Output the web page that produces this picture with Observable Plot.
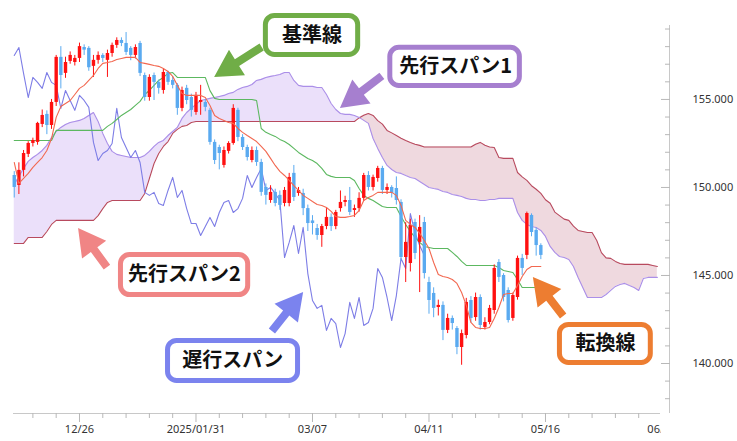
<!DOCTYPE html>
<html><head><meta charset="utf-8">
<script src="https://cdn.jsdelivr.net/npm/d3@7"></script>
<script src="https://cdn.jsdelivr.net/npm/@observablehq/plot@0.6"></script>
<style>
body{margin:0;background:#fff;}
#chart{width:737px;height:441px;overflow:hidden}
</style></head><body><div id="chart"></div>
<script>
// trading-day index: 12/26 = 0; first candle is index -14
const firstIndex = -14;
const open = [
150.68,150.11,150.97,151.88,152.5,152.56,153.58,154.15,153.52,154.83,
157.39,156.48,157.16,157.1,157.33,157.95,157.9,156.88,157.22,157.5,
157.22,157.61,158.07,158.35,158.18,157.9,157.5,158.18,156.36,155.11,
156.36,155.97,155.51,156.53,156.08,155.8,154.49,155.63,155.11,154.26,
154.83,154.83,154.38,152.56,152.27,151.25,152.05,152.5,154.38,152.84,
152.27,151.53,152.1,151.42,150.0,149.26,149.72,149.55,149.09,149.09,
150.8,149.66,149.66,148.8,148.1,147.67,147.27,147.78,148.3,147.78,
148.8,149.15,149.26,148.69,148.8,149.38,150.68,150.0,150.51,151.08,
149.83,150.0,149.94,149.15,146.02,145.68,148.01,146.88,148.01,144.6,
143.98,143.18,143.3,141.88,142.56,141.99,140.91,141.59,143.58,142.61,
143.75,142.05,142.33,143.01,145.74,145.0,144.15,142.56,143.75,145.97,
146.14,148.41,147.56,146.7];
const close = [
150.0,150.97,151.93,152.5,152.67,153.64,154.09,153.52,154.83,157.39,
156.36,157.1,157.5,157.33,158.0,157.8,156.8,157.22,157.5,157.33,
157.61,158.07,158.35,158.18,157.67,157.5,157.95,156.48,155.11,156.25,
155.97,155.63,156.53,155.97,155.8,154.49,155.51,154.94,154.38,155.23,
154.94,154.55,152.56,151.53,151.93,152.1,152.5,154.49,152.84,152.27,
151.7,152.1,151.42,149.72,149.55,149.72,149.09,148.98,149.83,150.57,
149.43,149.83,148.8,147.95,147.95,147.27,147.78,148.3,147.78,148.58,
149.15,149.26,148.58,148.8,149.38,150.68,150.0,150.57,151.08,149.83,
150.0,149.66,149.26,146.02,146.88,147.84,146.25,147.73,145.11,143.58,
143.13,143.3,141.88,142.56,142.27,140.91,141.7,143.47,142.56,143.75,
142.16,142.33,143.13,145.4,144.89,143.75,142.44,143.86,145.97,145.4,
148.52,147.44,146.7,146.14];
const high = [
150.9,151.4,152.1,152.6,152.8,153.7,154.4,154.35,155.0,157.5,
158.0,157.4,157.7,157.5,158.2,158.1,158.0,157.5,157.7,157.6,
157.8,158.2,158.5,158.5,158.8,158.0,158.1,158.3,156.5,156.4,
156.5,156.1,156.7,156.6,156.3,155.9,155.7,155.8,155.3,155.4,
155.8,155.0,154.5,152.7,152.4,152.3,152.6,154.7,154.5,153.0,
152.4,152.3,152.3,151.6,150.2,150.1,149.9,149.8,150.0,150.8,
151.25,150.0,149.9,149.0,148.4,147.9,147.9,148.8,148.5,148.7,
149.8,149.5,150.0,149.0,149.7,150.8,150.9,150.7,151.2,151.2,
150.2,150.1,150.6,149.3,148.0,148.2,148.2,148.4,148.3,144.9,
144.3,143.6,143.5,142.8,142.7,142.1,141.9,143.7,143.8,144.0,
143.9,142.6,143.3,145.6,145.9,145.1,144.3,144.0,146.1,146.2,
148.6,148.5,147.7,146.8];
const low = [
149.4,149.6,150.6,151.7,152.3,152.4,153.4,153.0,153.3,154.6,
155.6,156.2,157.0,156.9,157.1,157.5,156.6,156.25,157.0,157.1,
156.25,157.4,157.9,158.0,157.5,157.2,157.3,156.3,154.9,154.9,
154.94,155.3,155.3,155.8,155.6,154.1,154.3,154.7,154.0,154.1,
154.1,154.3,152.4,151.3,151.0,151.1,151.9,152.4,152.6,152.1,
151.5,151.4,151.2,149.5,149.0,149.1,148.9,148.7,148.9,148.9,
149.2,149.5,148.4,147.5,147.3,147.0,146.6,147.6,147.5,147.6,
148.6,148.9,148.4,148.3,148.6,149.2,149.8,149.8,150.3,149.6,
149.6,149.4,149.0,145.8,144.6,145.2,145.9,144.03,144.8,142.8,
142.6,142.7,141.3,141.7,141.9,140.5,139.9,141.4,142.3,142.4,
141.9,141.9,142.2,142.8,144.6,143.5,142.3,142.4,143.6,145.0,
145.9,147.2,146.1,145.9];
// 転換線
const tenkan = [
151.42,150.23,150.51,150.8,151.14,151.42,151.7,152.1,152.78,153.98,
154.6,154.77,154.94,155.28,155.63,155.8,156.08,156.36,156.76,157.05,
157.1,157.16,157.27,157.33,157.39,157.39,157.39,157.1,157.05,156.99,
156.93,156.88,156.76,156.59,156.31,155.8,155.34,155.23,155.23,155.23,
155.23,155.11,154.66,154.09,153.92,153.81,153.69,153.64,153.35,153.13,
152.95,152.78,152.61,152.33,152.05,151.65,151.25,150.91,150.68,150.4,
150.11,149.83,149.55,149.38,149.2,149.03,148.98,148.86,148.64,148.35,
148.3,148.3,148.35,148.41,148.69,149.26,149.43,149.55,149.72,149.72,
149.72,149.72,149.55,148.98,148.13,147.9,147.73,147.39,146.99,146.53,
145.74,145.06,144.94,144.89,144.77,144.55,144.03,143.3,142.33,142.05,
141.99,141.99,142.05,142.56,143.18,143.92,143.98,143.98,144.43,144.94,
145.34,145.51,145.51,145.51];
// 基準線
const kijun = [
152.67,152.67,152.67,152.67,152.67,152.67,152.67,152.67,152.67,153.24,
153.24,153.24,153.24,153.24,153.24,153.24,153.24,153.24,153.24,153.24,
153.47,153.64,153.86,154.09,154.26,154.43,154.66,154.89,155.28,155.51,
155.8,156.08,156.25,156.48,156.53,156.25,156.25,156.25,156.25,156.25,
156.25,156.25,155.5,155.06,155.0,155.0,155.0,155.0,155.0,155.0,
155.0,155.0,154.94,153.35,153.13,153.01,152.9,152.73,152.61,152.44,
152.22,151.99,151.82,151.65,151.53,151.36,151.08,150.74,150.63,150.57,
150.57,150.57,150.57,150.4,149.94,149.55,149.38,149.26,149.09,148.92,
148.86,148.86,148.86,148.35,147.9,147.5,147.16,146.88,146.65,146.59,
146.53,146.53,146.53,146.53,146.31,146.08,145.8,145.57,145.57,145.57,
145.57,145.57,145.57,145.57,145.45,145.28,145.23,145.17,144.77,144.32,
144.32,144.32,144.32,144.32];
// 先行スパン1 (index -14 .. 124)
const spanA = [
150.17,150.63,151.08,151.48,151.7,151.88,152.1,152.39,152.84,153.18,
153.41,153.58,153.69,153.75,153.81,153.92,154.09,154.26,153.75,153.07,
152.5,152.05,151.88,151.82,151.76,151.7,151.7,151.7,151.82,152.05,
152.33,152.56,152.67,152.95,153.18,153.41,153.92,154.26,154.49,154.72,
154.94,155.0,155.06,155.11,155.17,155.23,155.34,155.4,155.57,155.68,
155.74,155.85,156.08,156.14,156.25,156.31,156.36,156.42,156.53,156.53,
156.08,155.8,155.74,155.74,155.74,155.68,155.68,155.28,154.77,154.43,
154.2,154.15,154.15,154.09,153.98,153.81,153.64,152.78,152.22,151.7,
151.25,151.02,150.85,150.8,150.68,150.57,150.51,150.34,150.17,150.0,
149.94,149.89,149.77,149.72,149.6,149.55,149.49,149.38,149.32,149.32,
149.26,149.26,149.32,149.32,149.38,149.38,149.38,149.38,148.58,148.13,
147.9,147.78,147.73,147.56,147.22,146.65,146.31,146.08,146.02,145.91,
145.51,144.89,144.32,143.75,143.75,143.75,143.75,143.92,144.15,144.38,
144.49,144.55,144.43,144.32,144.15,144.83,144.89,144.89,144.89];
// 先行スパン2 (index -14 .. 124)
const spanB = [
146.82,146.82,146.82,147.16,147.16,147.16,147.16,147.5,147.9,148.13,
148.13,148.13,148.13,148.13,148.13,148.13,148.13,148.13,148.4,148.8,
149.15,149.26,149.26,149.26,149.26,149.26,149.26,149.26,149.66,150.51,
151.36,151.93,152.33,152.61,153.07,153.3,153.47,153.52,153.69,153.75,
153.75,153.75,153.75,153.75,153.75,153.75,153.75,153.75,153.75,153.75,
153.75,153.75,153.75,153.75,153.75,153.75,153.75,153.75,153.75,153.75,
153.75,153.75,153.75,153.75,153.75,153.75,153.75,153.75,153.75,153.75,
153.75,153.75,153.75,153.75,153.95,154.1,154.2,154.09,153.8,153.6,
153.24,153.1,152.95,152.8,152.67,152.55,152.45,152.39,152.3,152.3,
152.3,152.3,152.3,152.3,152.3,152.3,152.3,152.3,152.3,152.45,
152.56,152.4,152.3,152.27,151.7,151.65,151.65,151.65,150.85,150.6,
150.4,150.1,149.9,149.66,149.3,149.1,148.6,148.4,148.2,148.13,
147.8,147.56,147.5,147.44,147.44,146.99,146.3,146.0,145.97,145.8,
145.68,145.63,145.63,145.63,145.63,145.63,145.63,145.57,145.51];
// 遅行スパン (index -14 .. 74)
const chikou = [
157.5,157.95,156.48,155.11,156.25,155.97,155.63,156.53,155.97,155.8,
154.49,155.51,154.94,154.38,155.23,154.94,154.55,152.56,151.53,151.93,
152.1,152.5,154.49,152.84,152.27,151.7,152.1,151.42,149.72,149.55,
149.72,149.09,148.98,149.83,150.57,149.43,149.83,148.8,147.95,147.95,
147.27,147.78,148.3,147.78,148.58,149.15,149.26,148.58,148.8,149.38,
150.68,150.0,150.57,151.08,149.83,150.0,149.66,149.26,146.02,146.88,
147.84,146.25,147.73,145.11,143.58,143.13,143.3,141.88,142.56,142.27,
140.91,141.7,143.47,142.56,143.75,142.16,142.33,143.13,145.4,144.89,
143.75,142.44,143.86,145.97,145.4,148.52,147.44,146.7,146.14];

const xMajorIndex = [0, 25, 50, 75, 100, 125];
const xMajorLabels = ["12/26", "2025/01/31", "03/07", "04/11", "05/16", "06/20"];
const xMinorIndex = [-10,-5,5,10,15,20,30,35,40,45,55,60,65,70,80,85,90,95,105,110,115,120];
const yMajor = [140, 145, 150, 155];
const yMinor = [138,139,141,142,143,144,146,147,148,149,151,152,153,154,156,157,158,159];

// callouts (label, colour, box in index/price units, arrow tail -> tip)
const callouts = [
  {label:"基準線", color:"#70ad47", x1:40.0, x2:59.8, y1:159.74, y2:157.53, tx:49.9, ty:158.64, a:[39.2,157.95,29.0,156.25]},
  {label:"先行スパン1", color:"#a67fcf", x1:66.7, x2:94.5, y1:157.93, y2:155.77, tx:80.7, ty:156.85, a:[65.0,156.31,56.0,154.49]},
  {label:"先行スパン2", color:"#f08585", x1:8.9, x2:36.2, y1:146.16, y2:143.89, tx:22.5, ty:145.03, a:[6.0,145.45,-0.2,147.67]},
  {label:"遅行スパン", color:"#7b83ee", x1:19.0, x2:46.9, y1:141.28, y2:139.01, tx:32.9, ty:140.14, a:[41.4,141.82,48.1,144.03]},
  {label:"転換線", color:"#ed7d31", x1:103.1, x2:122.6, y1:142.19, y2:140.03, tx:112.9, ty:141.11, a:[103.9,142.67,97.4,144.89]}
];

const upColor = "#ff1010", downColor = "#5aaaf0";
const candles = open.map((o, k) => ({i: firstIndex + k, open: o, close: close[k], high: high[k], low: low[k], tenkan: tenkan[k], kijun: kijun[k]}));
const cloud = spanA.map((a, k) => ({i: firstIndex + k, a, b: spanB[k]}));
const lagging = chikou.map((v, k) => ({i: firstIndex + k, v}));
const candleColor = d => d.close >= d.open ? upColor : downColor;

const xDomain = [-14.16, 124.68], yDomain = [137.16, 159.2];

const plot = Plot.plot({
  width: 737, height: 441,
  marginLeft: 13, marginRight: 77, marginTop: 25, marginBottom: 28,
  x: {type: "linear", domain: xDomain},
  y: {type: "linear", domain: yDomain},
  style: {fontFamily: "'Noto Sans', sans-serif", fontSize: "11px", background: "#fff", color: "#333"},
  marks: [
    Plot.areaY(cloud, {x: "i", y1: "b", y2: d => Math.max(d.a, d.b), fill: "#ebe0fa"}),
    Plot.areaY(cloud, {x: "i", y1: "a", y2: d => Math.max(d.a, d.b), fill: "#efd9df"}),
    Plot.lineY(cloud, {x: "i", y: "b", stroke: "#b84a5e", strokeWidth: 1.1}),
    Plot.lineY(cloud, {x: "i", y: "a", stroke: "#ab8fe8", strokeWidth: 1.1}),
    Plot.lineY(lagging, {x: "i", y: "v", stroke: "#7d7de6", strokeWidth: 1.1}),
    Plot.lineY(candles, {x: "i", y: "kijun", stroke: "#5cb860", strokeWidth: 1.1}),
    Plot.ruleX(candles, {x: "i", y1: "low", y2: "high", stroke: candleColor, strokeWidth: 1}),
    Plot.ruleX(candles, {x: "i", y1: "open", y2: "close", stroke: candleColor, strokeWidth: 3.4}),
    Plot.lineY(candles, {x: "i", y: "tenkan", stroke: "#f26850", strokeWidth: 1.1}),
    // axes
    Plot.ruleY([yDomain[0]], {stroke: "#c8c8c8"}),
    Plot.ruleX([xDomain[1]], {stroke: "#c8c8c8", dx: 9}),
    Plot.axisX({ticks: xMinorIndex, tickSize: 5, tickFormat: () => "", stroke: "#b8b8b8"}),
    Plot.axisX({ticks: xMajorIndex.filter(v => v <= xDomain[1]), tickSize: 9, tickFormat: () => "", stroke: "#b8b8b8"}),
    Plot.text(xMajorIndex, {x: d => d, text: (d, k) => xMajorLabels[k], frameAnchor: "bottom", dy: 19, fill: "#333", fontSize: 11}),
    Plot.axisY({anchor: "right", ticks: yMinor, tickSize: 5, dx: 4, tickFormat: () => "", stroke: "#b8b8b8"}),
    Plot.axisY({anchor: "right", ticks: yMajor, tickSize: 9, tickFormat: () => "", stroke: "#b8b8b8"}),
    Plot.text(yMajor, {y: d => d, text: d => d.toFixed(3), frameAnchor: "right", dx: 32, textAnchor: "start", fill: "#333", fontSize: 11}),
    // callout boxes
    Plot.rect(callouts, {x1: "x1", x2: "x2", y1: "y1", y2: "y2", fill: "#fff", stroke: "color", strokeWidth: 5, rx: 9}),
    Plot.text(callouts, {x: "tx", y: "ty", text: "label", fill: "#111", fontSize: 20, fontWeight: "bold", fontFamily: "'Noto Sans CJK JP', sans-serif"})
  ]
});

document.getElementById("chart").appendChild(plot);

// clip the x labels to the plotting width and add the callout arrows
const sxo = plot.scale("x"), syo = plot.scale("y");
const sx = d3.scaleLinear().domain(sxo.domain).range(sxo.range);
const sy = d3.scaleLinear().domain(syo.domain).range(syo.range);
const svg = d3.select(plot);
const defs = svg.append("defs");
defs.append("clipPath").attr("id", "xlabclip").attr("clipPathUnits", "userSpaceOnUse")
  .append("rect").attr("x", -20).attr("y", -500).attr("width", sxo.range[1] + 20).attr("height", 2000);
const labelGroups = new Set();
svg.selectAll("text").each(function() {
  if (xMajorLabels.includes(this.textContent)) labelGroups.add(this.parentNode);
});
labelGroups.forEach(g => g.setAttribute("clip-path", "url(#xlabclip)"));

const arrowG = svg.append("g");
callouts.forEach(c => {
  const [ti, tv, hi, hv] = c.a;
  const x0 = sx(ti), y0 = sy(tv), x1 = sx(hi), y1 = sy(hv);
  const L = Math.hypot(x1 - x0, y1 - y0);
  const ux = (x1 - x0) / L, uy = (y1 - y0) / L, nx = -uy, ny = ux;
  const hl = 27, hw = 15, sw = 4;
  const bx = x1 - ux * hl, by = y1 - uy * hl;
  const pts = [
    [x0 + nx * sw, y0 + ny * sw], [bx + nx * sw, by + ny * sw], [bx + nx * hw, by + ny * hw],
    [x1, y1], [bx - nx * hw, by - ny * hw], [bx - nx * sw, by - ny * sw], [x0 - nx * sw, y0 - ny * sw]
  ];
  arrowG.append("polygon").attr("points", pts.map(p => p.join(",")).join(" ")).attr("fill", c.color);
});
</script>
</body></html>
